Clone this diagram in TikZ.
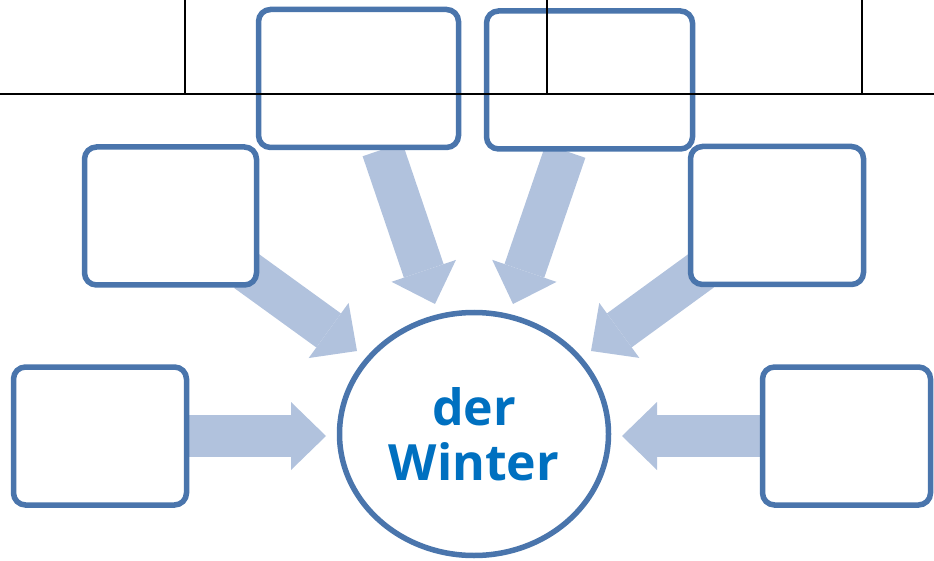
\documentclass[tikz,border=0pt]{standalone}
\usepackage{fontspec}
\setsansfont{Open Sans}
\usepackage{xcolor}
\usepackage{tikz}
\usetikzlibrary{shapes.geometric, arrows.meta, positioning, calc, backgrounds}
\definecolor{frameblue}{HTML}{4A75AC}
\definecolor{flowpale}{HTML}{B1C2DD}
\definecolor{wordblue}{HTML}{0070C0}

\begin{document}
\begin{tikzpicture}[x=1pt, y=-1pt, font=\sffamily]
    \tikzstyle{slot} = [rectangle, rounded corners=12pt, minimum height=138pt, inner sep=0pt, outer sep=0pt,
      draw=frameblue, line width=5.5pt, fill=white]
    \tikzstyle{feed} = [line width=42pt, color=flowpale,
      -{Triangle[length=35pt, width=68pt, line width=0pt]}]
    \tikzstyle{grid} = [line width=1.5pt, black]

    \useasboundingbox (0,0) rectangle (934,561);

    % centre word
    \node (core) [ellipse, minimum width=269pt, minimum height=243pt, inner sep=0pt, outer sep=0pt,
      draw=frameblue, line width=5.5pt, fill=white, text=wordblue, align=center,
      font=\sffamily\bfseries\fontsize{50pt}{55pt}\selectfont] at (474,434) {der\\Winter};

    % empty boxes
    \node (topL) [slot, minimum width=200pt] at (358.5,78.5) {};
    \node (topR) [slot, minimum width=206pt] at (589.5,80) {};
    \node (midL) [slot, minimum width=172pt] at (170.5,216) {};
    \node (midR) [slot, minimum width=173pt] at (777,215.5) {};
    \node (lowL) [slot, minimum width=173pt] at (100,436) {};
    \node (lowR) [slot, minimum width=168pt] at (846.5,436) {};

    \coordinate (tipTL) at ($(core)+(-39,-130)$);
    \coordinate (tipTR) at ($(core)+(39,-130)$);
    \coordinate (tipML) at ($(core)+(-117,-83)$);
    \coordinate (tipMR) at ($(core)+(117,-83)$);
    \coordinate (tipLL) at ($(core)+(-148,2)$);
    \coordinate (tipLR) at ($(core)+(148,2)$);

    \begin{scope}[on background layer]
      \draw [feed] ($(topL.south)+(24,2)$) -- (tipTL);
      \draw [feed] ($(topR.south)+(-24,2)$) -- (tipTR);
      \draw [feed] ($(midL.south east)+(-10,-14)$) -- (tipML);
      \draw [feed] ($(midR.south west)+(11,-14)$) -- (tipMR);
      \draw [feed] (lowL.east) -- (tipLL);
      \draw [feed] (lowR.west) -- (tipLR);
    \end{scope}

    % table rules on top
    \draw [grid] (0,94) -- (934,94);
    \foreach \gx in {185,547,862}
      \draw [grid] (\gx,0) -- (\gx,94);
\end{tikzpicture}
\end{document}
